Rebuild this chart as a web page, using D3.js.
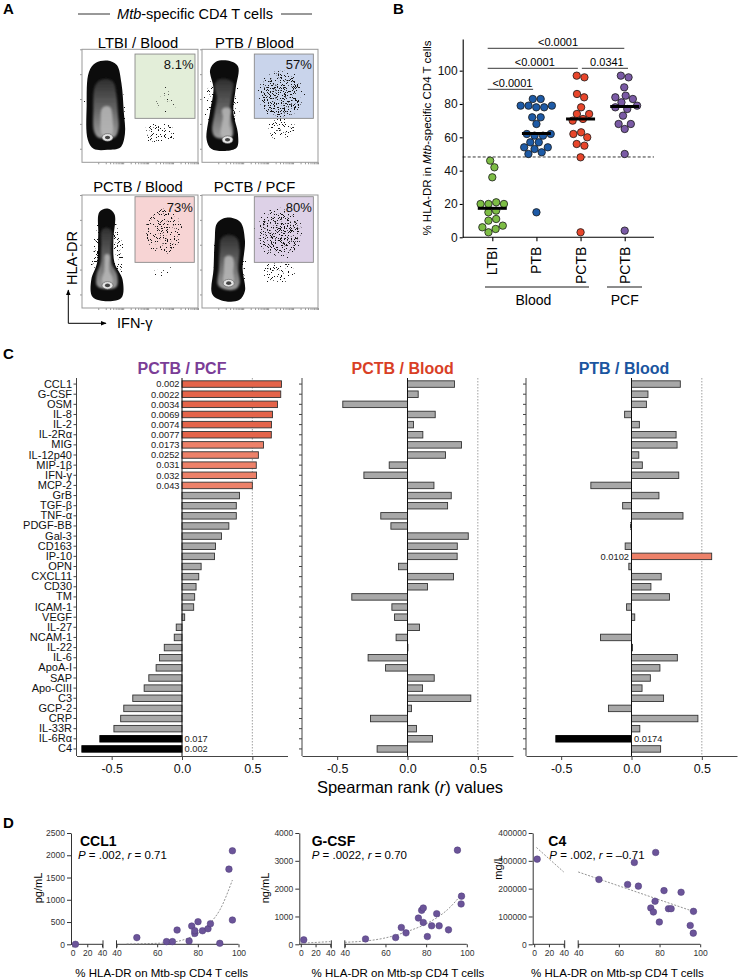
<!DOCTYPE html>
<html><head><meta charset="utf-8">
<script src="https://cdn.jsdelivr.net/npm/d3@7"></script>
<style>body{margin:0;background:#fff}</style>
</head><body>
<script>
// ================= DATA =================
// ---- Panel A (flow plots) ----
const flowSamples = ["LTBI / Blood","PTB / Blood","PCTB / Blood","PCTB / PCF"];
const flowGatePct = ["8.1%","57%","73%","80%"];
const flowGateFill = ["#e3eed9","#c9d4eb","#f7d4d4","#ddd1e7"];
// main population outlines (normalised 0..1 in each plot)
const blobLTBI = [[0.05,0.2],[0.04,0.5],[0.06,0.8],[0.12,0.88],[0.22,0.9],[0.30,0.86],[0.34,0.7],[0.36,0.45],[0.37,0.25],[0.33,0.13],[0.22,0.11],[0.1,0.12]];
const blobPTB  = [[0.04,0.2],[0.07,0.45],[0.1,0.65],[0.07,0.82],[0.12,0.89],[0.22,0.9],[0.31,0.85],[0.29,0.65],[0.27,0.45],[0.31,0.25],[0.3,0.13],[0.2,0.1],[0.08,0.12]];
const blobPCTB = [[0.09,0.1],[0.08,0.25],[0.13,0.4],[0.14,0.65],[0.15,0.85],[0.22,0.88],[0.28,0.83],[0.27,0.6],[0.28,0.4],[0.35,0.25],[0.34,0.09],[0.22,0.06]];
const blobPCF  = [[0.09,0.12],[0.1,0.35],[0.11,0.6],[0.13,0.75],[0.22,0.8],[0.33,0.76],[0.37,0.6],[0.35,0.35],[0.37,0.15],[0.32,0.07],[0.2,0.06]];
const blobEyes = [[0.22,0.22],[0.22,0.2],[0.22,0.2],[0.23,0.22]];
// event clouds (visible extent): [cx, cy, half-width, half-height, density]
const cloudsLTBI = [[0.67,0.26,0.17,0.11,"mid"],[0.73,0.55,0.12,0.16,"lo"]];
const cloudsPTB  = [[0.68,0.6,0.22,0.24,"hi"],[0.68,0.3,0.14,0.12,"mid"]];
const cloudsPCTB = [[0.7,0.68,0.2,0.24,"mid"],[0.72,0.3,0.15,0.11,"lo"]];
const cloudsPCF  = [[0.67,0.67,0.22,0.25,"hi"],[0.66,0.32,0.17,0.12,"mid"]];

// ---- Panel B ----
const bGroups = ["LTBI","PTB","PCTB","PCTB-PCF"];
const bGroupLabels = ["LTBI","PTB","PCTB","PCTB"];
const bLTBI = [46,42,36,21,20,20,20,16,15,11,10,7,6,5,3];
const bPTB  = [83,83,79,79,79,78,78,72,72,68,62,62,61,61,57,57,54,54,53,51,50,15];
const bPCTB = [97,96,86,84,78,74,74,71,70,63,62,60,56,55,48,3];
const bPCF  = [97,96,90,85,84,83,81,79,78,77,73,68,68,65,50,4];
const bMedians = [17.4,62.3,71,78.5];
const bCutoff = 48.2;
const bCompare = [["LTBI","PCTB-PCF","<0.0001"],["LTBI","PCTB","<0.0001"],["PCTB","PCTB-PCF","0.0341"],["LTBI","PTB","<0.0001"]];
const bColors = ["#7dbd45","#1d5aa6","#e8462b","#7a5aa5"];

// ---- Panel C ----
const cytokines = ["CCL1","G-CSF","OSM","IL-8","IL-2","IL-2Rα","MIG","IL-12p40","MIP-1β","IFN-γ","MCP-2","GrB","TGF-β","TNF-α","PDGF-BB","Gal-3","CD163","IP-10","OPN","CXCL11","CD30","TM","ICAM-1","VEGF","IL-27","NCAM-1","IL-22","IL-6","ApoA-I","SAP","Apo-CIII","C3","GCP-2","CRP","IL-33R","IL-6Rα","C4"];
const rPCF   = [0.707,0.702,0.679,0.643,0.636,0.635,0.579,0.543,0.528,0.530,0.500,0.409,0.386,0.386,0.333,0.281,0.238,0.231,0.136,0.119,0.100,0.090,0.083,0.019,-0.041,-0.055,-0.126,-0.160,-0.184,-0.236,-0.269,-0.350,-0.414,-0.436,-0.484,-0.584,-0.712];
const rBlood = [0.334,0.076,-0.46,0.197,0.043,0.109,0.384,0.27,-0.13,-0.31,0.188,0.311,0.285,-0.19,-0.118,0.432,0.354,0.353,-0.064,0.327,0.142,-0.396,-0.111,-0.092,0.085,-0.081,0.003,-0.28,-0.156,0.19,0.107,0.45,0.028,-0.263,0.064,0.178,-0.216];
const rPTB   = [0.347,0.117,0.106,-0.049,0.056,0.317,0.324,0.052,0.077,0.336,-0.289,0.195,-0.063,0.366,-0.007,0,-0.045,0.57,-0.019,0.211,0.138,0.27,-0.035,0.023,0,-0.22,0.007,0.326,0.202,0.134,0.075,0.228,-0.164,0.472,0.059,-0.538,0.207];
const pPCF = {"CCL1":"0.002","G-CSF":"0.0022","OSM":"0.0034","IL-8":"0.0069","IL-2":"0.0074","IL-2Rα":"0.0077","MIG":"0.0173","IL-12p40":"0.0252","MIP-1β":"0.031","IFN-γ":"0.032","MCP-2":"0.043","IL-6Rα":"0.017","C4":"0.002"};
const pBlood = {};
const pPTB = {"IP-10":"0.0102","IL-6Rα":"0.0174"};
const cTitles = ["PCTB / PCF","PCTB / Blood","PTB / Blood"];
const cTitleColors = ["#7b3d97","#d93f26","#1b55a0"];
const cTicks = [-0.5,0,0.5];

// ---- Panel D ----
const dTitles = ["CCL1","G-CSF","C4"];
const dUnits = ["pg/mL","ng/mL","mg/L"];
const dP = [".002",".0022",".002"];
const dR = ["0.71","0.70","–0.71"];
const dYMax = [2500,4000,400000];
const dYTicks = [[0,500,1000,1500,2000,2500],[0,1000,2000,3000,4000],[0,100000,200000,300000,400000]];
const dXTicks1 = [0,20,40];
const dXTicks2 = [40,60,80,100];
const ccl1Pts = [[4,0],[50,150],[64.6,60],[67.5,60],[69.8,320],[75.7,74],[77,410],[78.5,245],[78.5,305],[80.1,508],[82.3,305],[85,350],[86.2,462],[90.8,22],[95.3,1688],[97,2100],[97,545]];
const gcsfPts = [[4,160],[50.2,193],[65,242],[67.8,604],[70.1,411],[76.2,943],[77.8,1220],[78.6,1305],[78.6,785],[80.6,278],[82.7,665],[85.2,1100],[86.4,665],[91,520],[95.4,3384],[97.4,1730],[97.2,1450]];
const c4Pts = [[4,306000],[50.2,233000],[64.3,215000],[67.6,294000],[69.6,209000],[75.7,130500],[77,116000],[77.8,154700],[78.1,330000],[79.9,80000],[82.2,193000],[84.4,128000],[85.7,128000],[90.6,187000],[95.1,67700],[96.6,40000],[96.7,118400]];
const ccl1Fit = [[], [[45,5],[55,15],[65,36],[72.6,96],[80,246],[86.2,484],[90.8,770],[97,1444]]];
const gcsfFit = [[[0,36],[40,97]], [[40,70],[59.2,218],[70.7,460],[80.6,760],[90.5,1245],[97.4,1790]]];
const c4Fit   = [[[3,348000],[40,260000]], [[40,260000],[96.7,118000]]];

// ================= RENDER =================
const FONT = "'Liberation Sans', Arial, Helvetica, sans-serif";
const svg = d3.select("body").append("svg").attr("width",740).attr("height",980)
  .style("font-family",FONT).style("display","block");
svg.append("rect").attr("width",740).attr("height",980).attr("fill","#fff");
const defs = svg.append("defs");

function T(g,x,y,s,size,o={}){
  const t=g.append("text").attr("x",x).attr("y",y).attr("font-size",size)
    .attr("text-anchor",o.anchor||"start").attr("fill",o.fill||"#000");
  if(o.weight) t.attr("font-weight",o.weight);
  if(o.rotate) t.attr("transform",`rotate(${o.rotate},${x},${y})`);
  if(Array.isArray(s)) s.forEach(p=>{const ts=t.append("tspan").text(p[0]); if(p[1]) ts.attr("font-style","italic");});
  else t.text(s);
  return t;
}
[["A",3,14],["B",393,14],["C",3,359],["D",3,828]].forEach(d=>T(svg,d[1],d[2],d[0],15,{weight:"bold"}));

// ---------- defs: speckle filters, gradients ----------
const densities = {lo:0.68,mid:0.61,hi:0.56};
Object.entries(densities).forEach(([k,thr],i)=>{
  const f=defs.append("filter").attr("id","spk-"+k).attr("x","-5%").attr("y","-5%").attr("width","110%").attr("height","110%")
    .attr("color-interpolation-filters","sRGB");
  f.append("feTurbulence").attr("type","fractalNoise").attr("baseFrequency",1.3).attr("numOctaves",1).attr("seed",7+i).attr("result","n");
  f.append("feColorMatrix").attr("in","n").attr("type","matrix").attr("values","0 0 0 0 0  0 0 0 0 0  0 0 0 0 0  1 0 0 0 0").attr("result","na");
  f.append("feComposite").attr("in","na").attr("in2","SourceGraphic").attr("operator","arithmetic")
    .attr("k1",1).attr("k2",0).attr("k3",0).attr("k4",0).attr("result","m");
  f.append("feColorMatrix").attr("in","m").attr("type","matrix")
    .attr("values",`0 0 0 0 0.08  0 0 0 0 0.08  0 0 0 0 0.08  0 0 0 30 ${-30*thr}`);
});
const cg=defs.append("radialGradient").attr("id","cloudGrad");
cg.append("stop").attr("offset","0").attr("stop-color","#000").attr("stop-opacity",1);
cg.append("stop").attr("offset","0.4").attr("stop-color","#000").attr("stop-opacity",0.98);
cg.append("stop").attr("offset","1").attr("stop-color","#000").attr("stop-opacity",0);
const bg=defs.append("linearGradient").attr("id","blobGrad").attr("x1",0).attr("x2",0).attr("y1",0).attr("y2",1);
bg.append("stop").attr("offset","0").attr("stop-color","#2e2e2e");
bg.append("stop").attr("offset","0.55").attr("stop-color","#6a6a6a");
bg.append("stop").attr("offset","1").attr("stop-color","#9c9c9c");
const soft=defs.append("filter").attr("id","soft").attr("x","-20%").attr("y","-20%").attr("width","140%").attr("height","140%");
soft.append("feGaussianBlur").attr("stdDeviation",1.2);

// ---------- Panel A ----------
const gA = svg.append("g");
T(gA,195,18.5,[["Mtb",true],["-specific CD4 T cells",false]],14.5,{anchor:"middle"});
[[78,110],[281,312]].forEach(l=>gA.append("line").attr("x1",l[0]).attr("x2",l[1]).attr("y1",14).attr("y2",14).attr("stroke","#333").attr("stroke-width",1));
const boxX=[82,202], boxY=[49.3,195], boxW=116, boxH=113;
const gates=[[0.457,0.974,0.389,0.958],[0.451,0.96,0.389,0.958],[0.457,0.968,0.404,0.985],[0.451,0.96,0.404,0.985]];
const blobs=[blobLTBI,blobPTB,blobPCTB,blobPCF];
const clouds=[cloudsLTBI,cloudsPTB,cloudsPCTB,cloudsPCF];
const titleX=[138,254.5], titleY=[47.5,191.5];
const SPREAD=1.8; // gradient ellipse radius relative to visible extent
flowSamples.forEach((name,i)=>{
  const c=i%2, r=Math.floor(i/2);
  const bx=boxX[c], by=boxY[r];
  const sx=d3.scaleLinear([0,1],[bx,bx+boxW]);
  const sy=d3.scaleLinear([0,1],[by+boxH,by]);
  const g=gA.append("g");
  defs.append("clipPath").attr("id","fc"+i).append("rect").attr("x",bx).attr("y",by).attr("width",boxW).attr("height",boxH);
  const inner=g.append("g").attr("clip-path",`url(#fc${i})`);
  const gt=gates[i];
  inner.append("rect").attr("x",sx(gt[0])).attr("y",sy(gt[3])).attr("width",sx(gt[1])-sx(gt[0])).attr("height",sy(gt[2])-sy(gt[3])).attr("fill",flowGateFill[i]);
  clouds[i].forEach(cl=>{
    inner.append("ellipse").attr("cx",sx(cl[0])).attr("cy",sy(cl[1])).attr("rx",(sx(cl[2])-sx(0))*SPREAD).attr("ry",(sy(0)-sy(cl[3]))*SPREAD)
      .attr("fill","url(#cloudGrad)").attr("filter",`url(#spk-${cl[4]})`);
  });
  const pts=blobs[i];
  const ext=[d3.extent(pts,d=>d[0]),d3.extent(pts,d=>d[1])];
  inner.append("ellipse").attr("cx",sx((ext[0][0]+ext[0][1])/2)).attr("cy",sy((ext[1][0]+ext[1][1])/2))
    .attr("rx",(sx((ext[0][1]-ext[0][0])/2+0.05)-sx(0))*1.7).attr("ry",(sy(0)-sy((ext[1][1]-ext[1][0])/2+0.05))*1.45)
    .attr("fill","url(#cloudGrad)").attr("filter","url(#spk-mid)");
  const line=d3.line().x(d=>sx(d[0])).y(d=>sy(d[1])).curve(d3.curveCatmullRomClosed.alpha(0.5));
  inner.append("path").attr("d",line(pts)).attr("fill","#0c0c0c");
  const eye=blobEyes[i];
  const cxm=d3.mean(pts,d=>d[0]), cym=d3.mean(pts,d=>d[1]);
  const shrink=(k,ax,ay)=>pts.map(d=>[ax+(d[0]-ax)*k, ay+(d[1]-ay)*k]);
  inner.append("path").attr("d",line(shrink(0.66,cxm,cym*0.85))).attr("fill","url(#blobGrad)").attr("filter","url(#soft)");
  inner.append("path").attr("d",line(shrink(0.33,eye[0],eye[1]+0.08))).attr("fill","#b8b8b8").attr("opacity",0.85).attr("filter","url(#soft)");
  inner.append("ellipse").attr("cx",sx(eye[0])).attr("cy",sy(eye[1])).attr("rx",5.5).attr("ry",3.8).attr("fill","#e4e4e4").attr("stroke","#555").attr("stroke-width",0.6);
  inner.append("ellipse").attr("cx",sx(eye[0])).attr("cy",sy(eye[1])).attr("rx",2.6).attr("ry",1.8).attr("fill","#444");
  inner.append("rect").attr("x",sx(gt[0])).attr("y",sy(gt[3])).attr("width",sx(gt[1])-sx(gt[0])).attr("height",sy(gt[2])-sy(gt[3]))
    .attr("fill","none").attr("stroke","#8a8a8a").attr("stroke-width",0.9);
  T(g,sx(gt[1])-1.5,sy(gt[3])+15,flowGatePct[i],13,{anchor:"end",fill:"#111"});
  g.append("rect").attr("x",bx).attr("y",by).attr("width",boxW).attr("height",boxH).attr("fill","none").attr("stroke","#999").attr("stroke-width",1);
  const lx=d3.scaleLog([10,100000],[bx+boxW*0.14,bx+boxW]);
  g.append("g").attr("transform",`translate(0,${by+boxH})`).call(d3.axisBottom(lx).ticks(5).tickSize(2).tickFormat("").tickSizeOuter(0))
    .call(a=>{a.select(".domain").remove(); a.selectAll("line").attr("stroke","#999");});
  const ly=d3.scaleLog([10,100000],[by+boxH-boxH*0.12,by]);
  g.append("g").attr("transform",`translate(${bx},0)`).call(d3.axisLeft(ly).tickValues([10,100,1000,10000,100000]).tickSize(2).tickFormat("").tickSizeOuter(0))
    .call(a=>{a.select(".domain").remove(); a.selectAll("line").attr("stroke","#999");});
  T(g,titleX[c],titleY[r],name,14.8,{anchor:"middle"});
});
const mk=defs.append("marker").attr("id","arr").attr("viewBox","0 0 10 10").attr("refX",9).attr("refY",5)
  .attr("markerWidth",6).attr("markerHeight",6).attr("orient","auto");
mk.append("path").attr("d","M0,1 L10,5 L0,9 Z").attr("fill","#000");
gA.append("line").attr("x1",68.3).attr("y1",323.3).attr("x2",68.3).attr("y2",290).attr("stroke","#000").attr("stroke-width",1).attr("marker-end","url(#arr)");
gA.append("line").attr("x1",68.3).attr("y1",323.3).attr("x2",106).attr("y2",323.3).attr("stroke","#000").attr("stroke-width",1).attr("marker-end","url(#arr)");
T(gA,77,258,"HLA-DR",14.5,{anchor:"middle",rotate:-90});
T(gA,117,328,"IFN-γ",14.5);

// ---------- Panel B ----------
const gB=svg.append("g");
const yB=d3.scaleLinear([0,119],[237.3,39]);
const xB=d3.scalePoint().domain(bGroups).range([492.3,624.7]);
gB.append("g").attr("transform","translate(462.7,0)")
  .call(d3.axisLeft(yB).tickValues([0,20,40,60,80,100]).tickSize(3).tickPadding(2).tickSizeOuter(0))
  .call(a=>{a.selectAll("text").attr("font-size",12).attr("font-family",FONT).attr("fill","#111");
            a.selectAll("line,path").attr("stroke","#000").attr("stroke-width",1.1);});
gB.append("line").attr("x1",462.7).attr("x2",654).attr("y1",yB(0)).attr("y2",yB(0)).attr("stroke","#000").attr("stroke-width",1.1);
gB.append("g").attr("transform",`translate(0,${yB(0)})`)
  .call(d3.axisBottom(xB).tickSize(4).tickFormat("").tickSizeOuter(0))
  .call(a=>{a.select(".domain").remove(); a.selectAll("line").attr("stroke","#000").attr("stroke-width",1.1);});
bGroups.forEach((g,i)=>T(gB,xB(g)+5,246.7,bGroupLabels[i],14,{anchor:"end",rotate:-90}));
gB.append("line").attr("x1",485).attr("x2",589).attr("y1",287).attr("y2",287).attr("stroke","#000").attr("stroke-width",0.9);
gB.append("line").attr("x1",607).attr("x2",642).attr("y1",287).attr("y2",287).attr("stroke","#000").attr("stroke-width",0.9);
T(gB,(xB("PTB")+xB("LTBI"))/2+19,305,"Blood",14,{anchor:"middle"});
T(gB,xB("PCTB-PCF"),305,"PCF",14,{anchor:"middle"});
T(gB,431,138,[["% HLA-DR in ",false],["Mtb",true],["-specific CD4 T cells",false]],11.5,{anchor:"middle",rotate:-90});
gB.append("line").attr("x1",462.7).attr("x2",654).attr("y1",yB(bCutoff)).attr("y2",yB(bCutoff))
  .attr("stroke","#000").attr("stroke-width",0.8).attr("stroke-dasharray","3,2");
const brY=[48.3,68.3,68.3,89.3], brOff=[[-4.6,-0.4],[-4.6,-2.7],[1.3,3.3],[-4.6,-3.3]];
bCompare.forEach((c,i)=>{
  const x1=xB(c[0])+brOff[i][0], x2=xB(c[1])+brOff[i][1];
  gB.append("line").attr("x1",x1).attr("x2",x2).attr("y1",brY[i]).attr("y2",brY[i]).attr("stroke","#222").attr("stroke-width",0.9);
  T(gB,(x1+x2)/2+2,brY[i]-2.5,c[2],11,{anchor:"middle"});
});
const bSeries=[bLTBI,bPTB,bPCTB,bPCF];
const nodes=[];
bSeries.forEach((arr,gi)=>arr.forEach((v,k)=>nodes.push({gi,v,x:xB(bGroups[gi])+(k%2?0.6:-0.6),y:yB(v),fy:yB(v)})));
const sim=d3.forceSimulation(nodes).force("x",d3.forceX(d=>xB(bGroups[d.gi])).strength(0.06))
  .force("c",d3.forceCollide(3.95).iterations(3)).stop();
for(let k=0;k<300;k++) sim.tick();
gB.selectAll("circle.b").data(nodes).join("circle").attr("class","b")
  .attr("cx",d=>d.x).attr("cy",d=>yB(d.v)).attr("r",3.7)
  .attr("fill",d=>bColors[d.gi]).attr("stroke","#1a1a1a").attr("stroke-width",0.8);
bMedians.forEach((m,i)=>gB.append("line").attr("x1",xB(bGroups[i])-14.5).attr("x2",xB(bGroups[i])+14.5)
  .attr("y1",yB(m)).attr("y2",yB(m)).attr("stroke","#000").attr("stroke-width",3));

// ---------- Panel C ----------
const gC=svg.append("g");
const yC=d3.scaleBand().domain(cytokines).range([379,754]).paddingInner(0.36).paddingOuter(0.18);
const cX0=[76.5,302,526], cW=211;
const cVals=[rPCF,rBlood,rPTB], cP=[pPCF,pBlood,pPTB];
cX0.forEach((x0,pi)=>{
  const xC=d3.scaleLinear([-0.75,0.75],[x0,x0+cW]);
  const g=gC.append("g");
  T(g,[182,402.7,624][pi],374,cTitles[pi],16,{anchor:"middle",weight:"bold",fill:cTitleColors[pi]});
  g.append("g").attr("transform",`translate(${x0},0)`)
    .call(d3.axisLeft(yC).tickSize(3).tickPadding(1.5).tickSizeOuter(0).tickFormat(pi===0?(d=>d):""))
    .call(a=>{a.select(".domain").remove();
      a.selectAll("line").attr("stroke","#444").attr("stroke-width",1);
      a.selectAll("text").attr("font-size",11).attr("font-family",FONT).attr("fill","#111");});
  g.append("line").attr("x1",x0).attr("x2",x0).attr("y1",378).attr("y2",756).attr("stroke","#444").attr("stroke-width",1);
  g.append("g").attr("transform","translate(0,756)")
    .call(d3.axisBottom(xC).tickValues(cTicks).tickSize(4).tickPadding(4).tickSizeOuter(0).tickFormat(d=>d.toFixed(1)))
    .call(a=>{a.selectAll("line,path").attr("stroke","#444").attr("stroke-width",1);
      a.selectAll("text").attr("font-size",12.5).attr("font-family",FONT).attr("fill","#111");});
  g.append("line").attr("x1",xC(0.5)).attr("x2",xC(0.5)).attr("y1",378).attr("y2",756)
    .attr("stroke","#a0a0a0").attr("stroke-width",1).attr("stroke-dasharray","1.5,1.5");
  const vals=cVals[pi], pmap=cP[pi];
  const data=cytokines.map((c,i)=>({c,v:vals[i],p:pmap[c]}));
  g.selectAll("rect.bar").data(data).join("rect").attr("class","bar")
    .attr("x",d=>xC(Math.min(0,d.v))).attr("y",d=>yC(d.c))
    .attr("width",d=>Math.abs(xC(d.v)-xC(0))).attr("height",yC.bandwidth())
    .attr("fill",d=>d.p?(d.v<0?"#000":(+d.p<0.01?"#e4644a":"#ed8169")):"#a8a8a8")
    .attr("stroke",d=>d.p&&d.v<0?"#000":"#333").attr("stroke-width",0.9);
  g.append("line").attr("x1",xC(0)).attr("x2",xC(0)).attr("y1",378).attr("y2",756).attr("stroke","#111").attr("stroke-width",1);
  data.filter(d=>d.p).forEach(d=>{
    const neg=d.v<0;
    T(g,xC(0)+(neg?2.5:-2.5),yC(d.c)+yC.bandwidth()/2+3.3,d.p,9.3,{anchor:neg?"start":"end",fill:"#222"});
  });
});
T(gC,410,793,[["Spearman rank (",false],["r",true],[") values",false]],16.5,{anchor:"middle"});

// ---------- Panel D ----------
const gD=svg.append("g");
const dX0=[71,299.3,532.7];
const dPts=[ccl1Pts,gcsfPts,c4Pts], dFit=[ccl1Fit,gcsfFit,c4Fit];
const dTitleX=[80,311.7,548.3], dStatX=[78,311.7,549.3], dLabX=[161.7,398,617.5];
const dUnitX=[38,265,497.5], dUnitY=[888,888,867.5];
dX0.forEach((X0,pi)=>{
  const g=gD.append("g");
  const yD=d3.scaleLinear([0,dYMax[pi]],[944.3,833]);
  const s1=d3.scaleLinear([0,40],[X0+1.5,X0+31]);
  const s2=d3.scaleLinear([40,100],[X0+45.5,X0+167.5]);
  const xs=v=>v<=40?s1(v):s2(v);
  g.append("g").attr("transform",`translate(${X0},0)`)
    .call(d3.axisLeft(yD).tickValues(dYTicks[pi]).tickSize(4).tickPadding(2).tickSizeOuter(0).tickFormat(d3.format("d")))
    .call(a=>{a.selectAll("line,path").attr("stroke","#333").attr("stroke-width",1);
      a.selectAll("text").attr("font-size",8.5).attr("font-family",FONT).attr("fill","#333");});
  [[s1,dXTicks1,X0,X0+32],[s2,dXTicks2,X0+45.5,X0+167.5]].forEach(([sc,tv,a0,a1])=>{
    g.append("g").attr("transform","translate(0,944.3)")
      .call(d3.axisBottom(sc).tickValues(tv).tickSize(3).tickPadding(3).tickSizeOuter(0))
      .call(a=>{a.select(".domain").remove(); a.selectAll("line").attr("stroke","#333");
        a.selectAll("text").attr("font-size",8.5).attr("font-family",FONT).attr("fill","#333");});
    g.append("line").attr("x1",a0).attr("x2",a1).attr("y1",944.3).attr("y2",944.3).attr("stroke","#333").attr("stroke-width",1);
  });
  [X0+32,X0+45.5].forEach(bx=>g.append("line").attr("x1",bx).attr("x2",bx).attr("y1",940.3).attr("y2",948.3).attr("stroke","#333").attr("stroke-width",1));
  const fit=dFit[pi];
  [s1,s2].forEach((sc,si)=>{
    if(!fit[si].length) return;
    g.append("path").attr("d",d3.line().x(d=>sc(d[0])).y(d=>yD(d[1])).curve(d3.curveMonotoneX)(fit[si]))
      .attr("fill","none").attr("stroke","#777").attr("stroke-width",0.8).attr("stroke-dasharray","2,1.5");
  });
  g.selectAll("circle").data(dPts[pi]).join("circle").attr("cx",d=>xs(d[0])).attr("cy",d=>yD(d[1])).attr("r",3.3)
    .attr("fill","#6b5499").attr("stroke","#4e3c78").attr("stroke-width",0.5);
  T(g,dTitleX[pi],846,dTitles[pi],14,{weight:"bold"});
  T(g,dStatX[pi],859,[["P",true],[" = "+dP[pi]+", ",false],["r",true],[" = "+dR[pi],false]],11.5);
  T(g,dUnitX[pi]+4,dUnitY[pi],dUnits[pi],11,{anchor:"middle",rotate:-90});
  T(g,dLabX[pi],977,"% HLA-DR on Mtb-sp CD4 T cells",11.5,{anchor:"middle"});
});
</script></body></html>
